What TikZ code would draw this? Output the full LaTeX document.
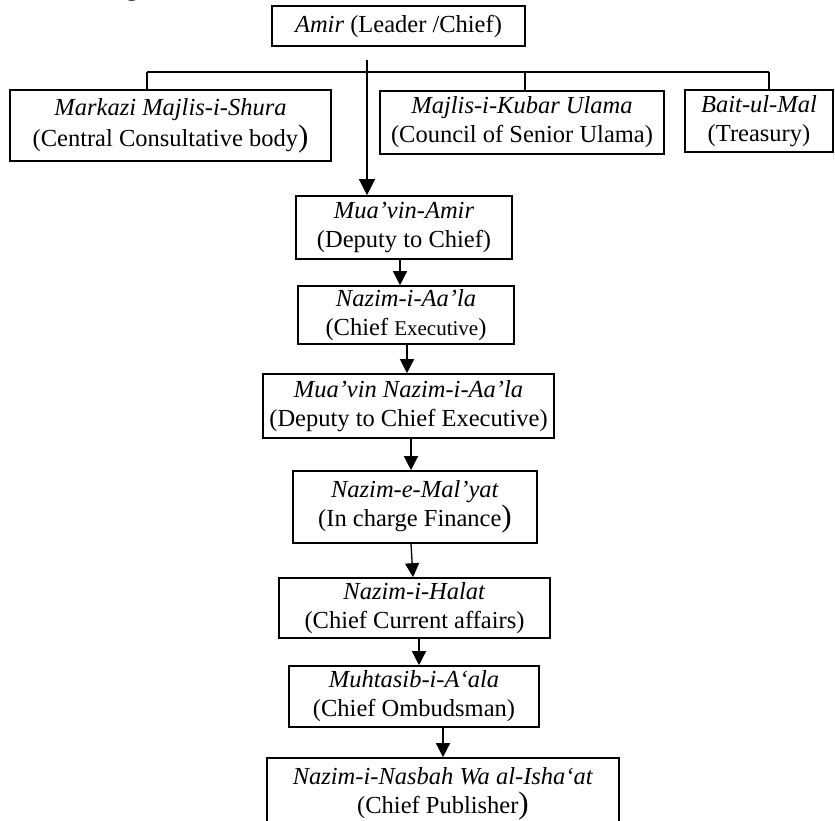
\documentclass[tikz,border=0pt]{standalone}
\usepackage{fontspec}
\setmainfont{Liberation Serif}
\usetikzlibrary{arrows.meta,calc}
\newcommand{\tallparen}{{\fontsize{31}{28}\selectfont)}}

\begin{document}
\begin{tikzpicture}[x=1pt,y=-1pt]
      \tikzset{org box/.style={draw,
          line width=1.6pt,
          align=center,
          inner sep=0pt,
          font=\fontsize{24.5}{29}\selectfont},
        down arrow/.style={line width=1.3pt,
          -{Triangle[width=14pt,length=14pt]}}
      }
      \useasboundingbox (0,0) rectangle (835,821);
      \node [anchor=base, font=\bfseries\fontsize{26}{30}\selectfont] (title) at (132,-4) {g};

      \node [org box, minimum width=253, minimum height=40] (Amir) at (398.5,26) {\textit{Amir} (Leader /Chief)};
      \node [org box, minimum width=321, minimum height=71, font=\fontsize{24.5}{31}\selectfont] (Shura) at (170.5,125.5) {\textit{Markazi Majlis-i-Shura}\\(Central Consultative body\tallparen};
      \node [org box, minimum width=284, minimum height=63] (Ulama) at (522,122.5) {\textit{Majlis-i-Kubar Ulama}\\(Council of Senior Ulama)};
      \node [org box, minimum width=148, minimum height=62] (Mal) at (759,121) {\textit{Bait-ul-Mal}\\(Treasury)};
      \node [org box, minimum width=216, minimum height=63] (MuavinAmir) at (404,227.5) {\textit{Mua’vin-Amir}\\(Deputy to Chief)};
      \node [org box, minimum width=216, minimum height=58] (NazimAala) at (406,315) {\textit{Nazim-i-Aa’la}\\(Chief {\fontsize{21}{29}\selectfont Executive})};
      \node [org box, minimum width=291, minimum height=64] (MuavinNazim) at (408.5,406) {\textit{Mua’vin Nazim-i-Aa’la}\\(Deputy to Chief Executive)};
      \node [org box, minimum width=244, minimum height=72] (Malyat) at (415,507) {\textit{Nazim-e-Mal’yat}\\(In charge Finance\tallparen};
      \node [org box, minimum width=271, minimum height=60] (Halat) at (414.5,608) {\textit{Nazim-i-Halat}\\(Chief Current affairs)};
      \node [org box, minimum width=250, minimum height=61] (Muhtasib) at (414,696.5) {\textit{Muhtasib-i-A‘ala}\\(Chief Ombudsman)};
      \node [org box, minimum width=352, minimum height=72] (Nasbah) at (443,794) {\textit{Nazim-i-Nasbah Wa al-Isha‘at}\\(Chief Publisher\tallparen};

      % bus to the three bodies
      \coordinate (busL) at (147,72);
      \coordinate (busM) at (525,72);
      \coordinate (busR) at (769,72);
      \draw [line width=1.6pt] (busL) -- (busR);
      \draw [line width=1.3pt] (busL) -- (busL |- Shura.north);
      \draw [line width=1.3pt] (busM) -- (busM |- Ulama.north);
      \draw [line width=1.3pt] (busR) -- (busR |- Mal.north);

      % chain of command
      \coordinate (stem) at (367,60);
      \draw [down arrow, -{Triangle[width=16pt,length=16pt]}] (stem) -- (stem |- MuavinAmir.north);
      \draw [down arrow] ([xshift=-4]MuavinAmir.south) -- ([xshift=-4]MuavinAmir.south |- NazimAala.north);
      \draw [down arrow] ([xshift=1]NazimAala.south) -- ([xshift=1]NazimAala.south |- MuavinNazim.north);
      \draw [down arrow] ([xshift=2.5]MuavinNazim.south) -- ([xshift=2.5]MuavinNazim.south |- Malyat.north);
      \draw [down arrow] ([xshift=-4]Malyat.south) -- ([xshift=-1.5]Halat.north);
      \draw [down arrow] ([xshift=4.5]Halat.south) -- ([xshift=4.5]Halat.south |- Muhtasib.north);
      \draw [down arrow] (Muhtasib.south -| Nasbah.north) -- (Nasbah.north);
\end{tikzpicture}
\end{document}
